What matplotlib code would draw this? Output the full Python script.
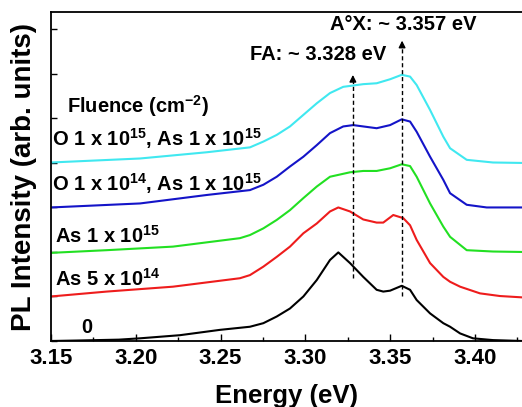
import matplotlib
matplotlib.use("Agg")
import matplotlib.pyplot as plt
from matplotlib.ticker import MultipleLocator

plt.rcParams['font.family'] = ['Liberation Sans', 'DejaVu Sans']
plt.rcParams['font.weight'] = 'bold'
plt.rcParams['axes.labelweight'] = 'bold'
plt.rcParams['mathtext.fontset'] = 'custom'
plt.rcParams['mathtext.rm'] = 'Liberation Sans'
plt.rcParams['mathtext.bf'] = 'Liberation Sans:bold'

# PL spectra (curves are already offset vertically)
e_0 = [3.150, 3.165, 3.190, 3.2025, 3.226, 3.2496, 3.2673, 3.2752, 3.2831, 3.2909,
       3.2988, 3.3067, 3.3145, 3.3194, 3.3263, 3.3341, 3.342, 3.3459, 3.3499, 3.3568,
       3.3617, 3.3656, 3.3735, 3.3813, 3.3853, 3.3912, 3.3988, 3.4106, 3.4277]
pl_0 = [0.0, 0.01, 0.03, 0.06, 0.13, 0.25, 0.32, 0.40, 0.55, 0.73,
        1.00, 1.37, 1.82, 1.99, 1.75, 1.44, 1.15, 1.11, 1.13, 1.24,
        1.15, 0.92, 0.62, 0.40, 0.32, 0.17, 0.06, 0.02, 0.0]

e_as5e14 = [3.150, 3.1828, 3.2219, 3.2614, 3.2673, 3.2752, 3.2831, 3.2909, 3.2988, 3.3067,
            3.3145, 3.3194, 3.3263, 3.3341, 3.342, 3.3459, 3.3518, 3.3577, 3.3617, 3.3656,
            3.3735, 3.3813, 3.3853, 3.3912, 3.4029, 3.4147, 3.4277]
pl_as5e14 = [1.00, 1.11, 1.22, 1.41, 1.48, 1.67, 1.89, 2.12, 2.42, 2.64,
             2.91, 3.00, 2.91, 2.73, 2.66, 2.66, 2.83, 2.76, 2.60, 2.27,
             1.75, 1.44, 1.33, 1.22, 1.07, 1.01, 0.98]

e_as1e15 = [3.150, 3.1828, 3.2219, 3.2614, 3.2673, 3.2752, 3.2831, 3.2909, 3.2988, 3.3067,
            3.3145, 3.3263, 3.3341, 3.342, 3.3499, 3.3568, 3.3617, 3.3656, 3.3735, 3.3813,
            3.3853, 3.3951, 3.4106, 3.4277]
pl_as1e15 = [1.98, 2.04, 2.12, 2.31, 2.38, 2.53, 2.72, 2.94, 3.21, 3.47,
             3.69, 3.79, 3.82, 3.82, 3.88, 3.97, 3.93, 3.69, 3.09, 2.57,
             2.34, 2.04, 2.01, 2.00]

e_o14 = [3.150, 3.2025, 3.2418, 3.2673, 3.2752, 3.2831, 3.2909, 3.2988, 3.3067, 3.3145,
         3.3223, 3.3282, 3.3341, 3.342, 3.3499, 3.3568, 3.3617, 3.3656, 3.3735, 3.3813,
         3.3853, 3.3951, 3.4069, 3.4277]
pl_o14 = [3.00, 3.09, 3.28, 3.39, 3.51, 3.69, 3.92, 4.14, 4.40, 4.67,
          4.82, 4.85, 4.82, 4.78, 4.85, 4.98, 4.93, 4.70, 4.14, 3.62,
          3.32, 3.06, 3.00, 3.00]

e_o15 = [3.150, 3.2025, 3.2418, 3.2673, 3.2752, 3.2831, 3.2909, 3.2988, 3.3067, 3.3145,
         3.3223, 3.3263, 3.3341, 3.342, 3.3499, 3.3568, 3.3617, 3.3656, 3.3735, 3.3813,
         3.3853, 3.3951, 3.4106, 3.4277]
pl_o15 = [4.01, 4.10, 4.24, 4.35, 4.48, 4.63, 4.82, 5.08, 5.34, 5.57,
          5.71, 5.73, 5.77, 5.79, 5.88, 5.98, 5.94, 5.75, 5.19, 4.59,
          4.33, 4.07, 4.01, 4.00]

fa_energy = 3.328
aox_energy = 3.357

fig = plt.figure(figsize=(5.22, 4.07), dpi=100)
ax = fig.add_axes([0.0977, 0.1622, 0.9023, 0.8071])

ax.plot(e_0, pl_0, color='black', lw=1.5)
ax.plot(e_as5e14, pl_as5e14, color='#ee1c1c', lw=1.5)
ax.plot(e_as1e15, pl_as1e15, color='#22e022', lw=1.5)
ax.plot(e_o14, pl_o14, color='#1414c8', lw=1.5)
ax.plot(e_o15, pl_o15, color='#40e8f0', lw=1.5)

# dashed markers with arrow heads
ax.plot([fa_energy, fa_energy], [1.41, 5.85], color='black', lw=1, ls=(0, (3, 2)))
ax.plot([aox_energy, aox_energy], [1.0, 6.6], color='black', lw=1, ls=(0, (3, 2)))
ax.annotate('', xy=(fa_energy, 6.04), xytext=(fa_energy, 5.8),
            arrowprops=dict(arrowstyle='-|>', color='black', lw=1, mutation_scale=10))
ax.annotate('', xy=(aox_energy, 6.81), xytext=(aox_energy, 6.57),
            arrowprops=dict(arrowstyle='-|>', color='black', lw=1, mutation_scale=10))

ax.text(3.3074, 6.43, 'FA: ~ 3.328 eV', ha='center', va='center', fontsize=14.5)
ax.text(3.3578, 7.10, 'A°X: ~ 3.357 eV', ha='center', va='center', fontsize=14.5)

ax.text(3.1594, 5.12, 'Fluence (cm$^{-2}$)', fontsize=14.5, va='baseline')
ax.text(3.1506, 4.38, 'O 1 x 10$^{15}$, As 1 x 10$^{15}$', fontsize=14.5, va='baseline')
ax.text(3.1506, 3.37, 'O 1 x 10$^{14}$, As 1 x 10$^{15}$', fontsize=14.5, va='baseline')
ax.text(3.1524, 2.20, 'As 1 x 10$^{15}$', fontsize=14.5, va='baseline')
ax.text(3.1524, 1.25, 'As 5 x 10$^{14}$', fontsize=14.5, va='baseline')
ax.text(3.168, 0.17, '0', fontsize=14.5, va='baseline')

ax.set_xlim(3.15, 3.4277)
ax.set_ylim(0, 7.38)
ax.xaxis.set_major_locator(MultipleLocator(0.05))
ax.xaxis.set_minor_locator(MultipleLocator(0.025))
ax.yaxis.set_major_locator(MultipleLocator(1))
ax.tick_params(axis='x', which='both', direction='in', labelsize=16, pad=5, width=1)
ax.tick_params(axis='x', which='major', length=5)
ax.tick_params(axis='x', which='minor', length=3)
ax.tick_params(axis='y', direction='in', length=4, width=1, labelleft=False)
ax.set_xticklabels(['%.2f' % v for v in ax.get_xticks()])

for s in ['left', 'top', 'bottom']:
    ax.spines[s].set_linewidth(1.3)
ax.spines['right'].set_visible(False)

ax.set_xlabel('Energy (eV)', fontsize=18.5)
ax.xaxis.set_label_coords(0.5, -0.132)
ax.set_ylabel('PL Intensity (arb. units)', fontsize=20)
ax.yaxis.set_label_coords(-0.030, 0.5)

fig.savefig('out.png', dpi=100)
